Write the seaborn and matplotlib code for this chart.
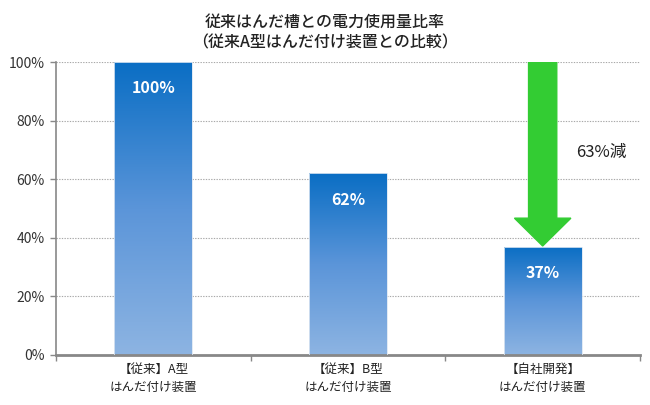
import numpy as np
import pandas as pd
import matplotlib
matplotlib.use("Agg")
import matplotlib.pyplot as plt
import seaborn as sns
from matplotlib.colors import LinearSegmentedColormap
from matplotlib.patches import FancyArrow

categories = ["【従来】A型\nはんだ付け装置", "【従来】B型\nはんだ付け装置", "【自社開発】\nはんだ付け装置"]
values = [100, 62, 37]
labels = ["100%", "62%", "37%"]
yticks = [0, 20, 40, 60, 80, 100]
ytick_labels = ["0%", "20%", "40%", "60%", "80%", "100%"]
title = "従来はんだ槽との電力使用量比率\n（従来A型はんだ付け装置との比較）"
reduction_text = "63%減"

sns.set_theme(style="white")
plt.rcParams["font.family"] = ["Noto Sans CJK JP", "DejaVu Sans"]

fig = plt.figure(figsize=(6.5, 4.05), dpi=100)
ax = fig.add_axes([56/650, 1-355/405, 584/650, 293/405])

df = pd.DataFrame({"cat": categories, "val": values})
sns.barplot(data=df, x="cat", y="val", ax=ax, width=0.4, color="#4a8ad6",
            edgecolor="none", saturation=1)

ax.set_ylim(0, 100)
ax.set_xlim(-0.5, 2.5)

cmap = LinearSegmentedColormap.from_list("g", ["#8db4e2", "#5b95d9", "#0a6ec4"])
grad = np.linspace(0, 1, 256).reshape(-1, 1)
for p in list(ax.patches):
    x0, y0 = p.get_x(), p.get_y()
    w, h = p.get_width(), p.get_height()
    im = ax.imshow(grad, cmap=cmap, aspect="auto", origin="lower",
                   extent=[x0, x0 + w, y0, y0 + h], zorder=2)
    im.set_clip_path(p)
    p.set_facecolor("none")
    p.set_edgecolor("#dce6f2")
    p.set_linewidth(0.6)
    p.set_zorder(3)

for i, (v, lab) in enumerate(zip(values, labels)):
    ax.text(i, v - 9, lab, ha="center", va="center", color="white",
            fontsize=11.5, fontweight="bold", zorder=5)

ax.set_yticks(yticks)
ax.set_yticklabels(ytick_labels, fontsize=10, color="#333333")
ax.yaxis.grid(True, linestyle=(0, (1.2, 1.2)), color="#a8a8a8", linewidth=0.8)
ax.set_axisbelow(True)

ax.set_xticks([0, 1, 2])
ax.set_xticklabels(categories, fontsize=9, color="#222222", linespacing=1.5)
ax.tick_params(axis="x", length=0, pad=6)
ax.tick_params(axis="y", left=True, length=4, color="#888888", width=1, pad=4)
ax.set_xticks([-0.5, 0.5, 1.5, 2.5], minor=True)
ax.tick_params(axis="x", which="minor", bottom=True, length=4, color="#888888", width=1)

ax.set_xlabel("")
ax.set_ylabel("")
for s in ["top", "right"]:
    ax.spines[s].set_visible(False)
ax.spines["left"].set_color("#888888")
ax.spines["left"].set_linewidth(1.2)
ax.spines["bottom"].set_color("#888888")
ax.spines["bottom"].set_linewidth(2)

arrow = FancyArrow(2.0, 100, 0, -(100 - values[2]) + 0.2, width=0.145,
                   head_width=0.29, head_length=9.5, length_includes_head=True,
                   color="#33cc33", zorder=6)
ax.add_patch(arrow)
ax.text(2.30, 69, reduction_text, ha="center", va="center", fontsize=12,
        color="#222222", zorder=6)

fig.suptitle(title, fontsize=11.5, y=0.965, linespacing=1.25, color="#222222",
             fontweight="medium")

fig.savefig("out.png", dpi=100)
